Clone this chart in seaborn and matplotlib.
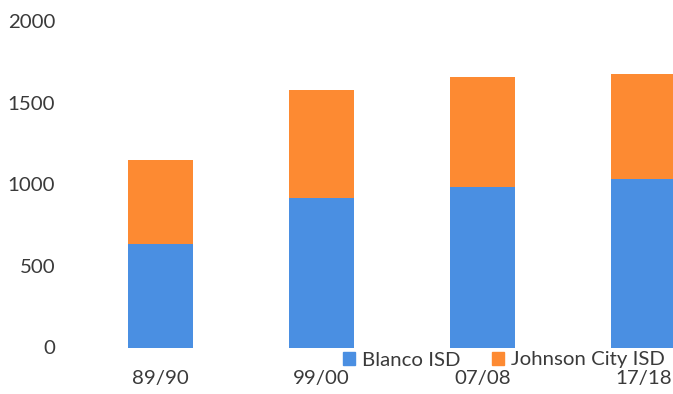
import matplotlib
matplotlib.use("Agg")
import matplotlib.pyplot as plt
import seaborn as sns
import pandas as pd
from matplotlib.patches import Patch

categories = ["89/90", "99/00", "07/08", "17/18"]
blanco = [633, 914, 982, 1031]
johnson_city = [514, 661, 672, 642]
series_names = ["Blanco ISD", "Johnson City ISD"]
y_ticks = [0, 500, 1000, 1500, 2000]

BLUE = "#4a8fe2"
ORANGE = "#fd8a32"
TEXT = "#3a3a3a"

sns.set_theme(style="white")
plt.rcParams["font.family"] = ["Lato", "DejaVu Sans"]

df = pd.DataFrame({"period": categories, "blanco": blanco, "jc": johnson_city})
df["total"] = df["blanco"] + df["jc"]

fig = plt.figure(figsize=(6.73, 3.94), dpi=100)
ax = fig.add_axes([65 / 673, 1 - 347.5 / 394, 608 / 673, (347.5 - 21) / 394])

sns.barplot(data=df, x="period", y="total", color=ORANGE, width=0.4,
            saturation=1, ax=ax, linewidth=0)
sns.barplot(data=df, x="period", y="blanco", color=BLUE, width=0.4,
            saturation=1, ax=ax, linewidth=0)

ax.set_xlim(-0.593, 3.183)
ax.set_ylim(0, 2000)
ax.set_yticks(y_ticks)
ax.set_yticklabels([str(t) for t in y_ticks])
ax.set_xlabel("")
ax.set_ylabel("")
for s in ax.spines.values():
    s.set_visible(False)
ax.tick_params(axis="x", length=0, pad=16, labelsize=14.7, colors=TEXT)
ax.tick_params(axis="y", length=0, pad=7, labelsize=14.7, colors=TEXT)
ax.grid(False)

handles = [Patch(color=BLUE, label=series_names[0]),
           Patch(color=ORANGE, label=series_names[1])]
fig.legend(handles=handles, loc="center left", bbox_to_anchor=(343 / 673, 1 - 360 / 394),
           frameon=False, ncol=2, fontsize=14.7, handlelength=0.6, handleheight=0.6,
           handletextpad=0.35, columnspacing=1.5, labelcolor=TEXT, borderaxespad=0,
           borderpad=0)

fig.savefig("out.png", dpi=100)
